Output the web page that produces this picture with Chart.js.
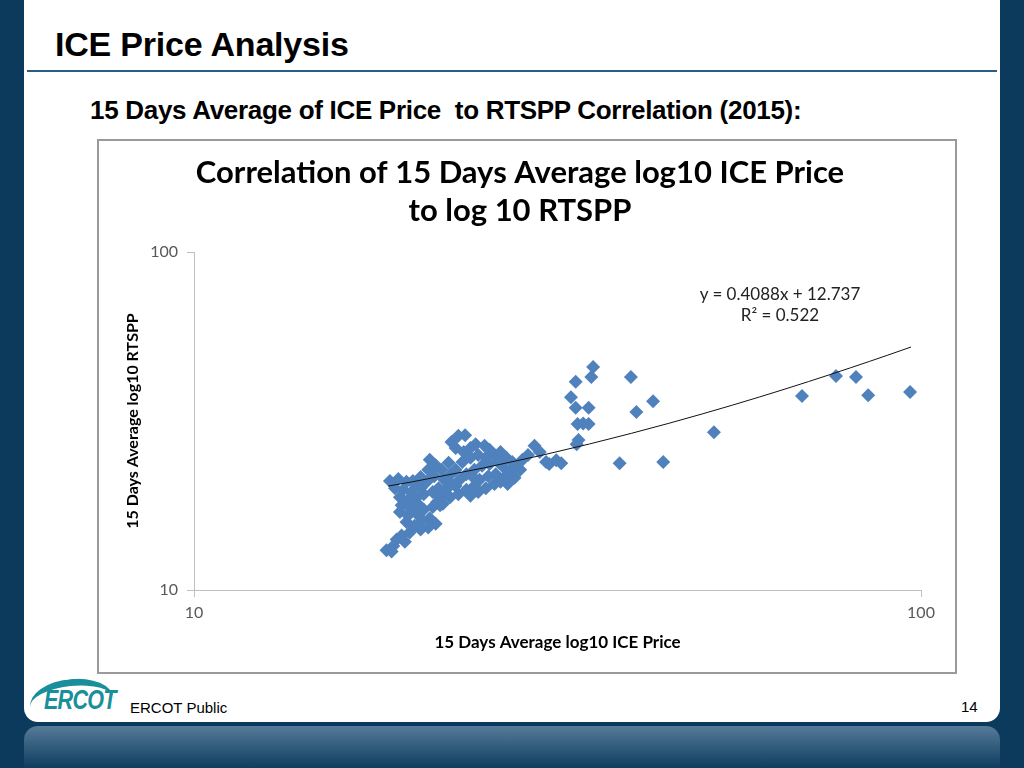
<!DOCTYPE html>
<html>
<head>
<meta charset="utf-8">
<title>ICE Price Analysis</title>
<script src="https://cdn.jsdelivr.net/npm/chart.js@4/dist/chart.umd.min.js"></script>
<style>
  html, body { margin: 0; padding: 0; }
  body { width: 1024px; height: 768px; background: #0b3a5d; position: relative; overflow: hidden; font-family: "Liberation Sans", Arial, sans-serif; }
  #panel { position: absolute; left: 24px; top: 0; width: 976px; height: 722px; background: #fff; border-radius: 0 0 14px 14px; }
  #band { position: absolute; left: 24px; top: 726px; width: 976px; height: 42px; border-radius: 14px 14px 0 0; background: linear-gradient(#557b98, #0f3d5f); }
  #title { position: absolute; left: 55px; top: 25px; font-size: 34px; font-weight: bold; color: #000; letter-spacing: -0.2px; }
  #rule { position: absolute; left: 27px; top: 70px; width: 970px; height: 2px; background: #24608a; }
  #subtitle { position: absolute; left: 90px; top: 95px; font-size: 26px; font-weight: bold; color: #000; white-space: pre; letter-spacing: -0.3px; }
  #box { position: absolute; left: 97px; top: 139px; width: 856px; height: 531px; border: 2px solid #9a9a9a; background: #fff; }
  #chart { position: absolute; left: 0; top: 0; }
  .eq { position: absolute; font-family: Lato, sans-serif; font-size: 17px; color: #222; width: 260px; text-align: center; }
  #logo { position: absolute; left: 44px; top: 685px; font-size: 27px; font-weight: bold; font-style: italic; color: #1a8f9c; letter-spacing: -1px; transform: scaleX(0.8); transform-origin: left; }
  #swoosh { position: absolute; left: 30px; top: 679px; width: 84px; height: 40px; border-top: 7px solid #1a8f9c; border-radius: 50% 50% 0 0; transform: rotate(-6deg); }
  #footer { position: absolute; left: 130px; top: 699px; font-size: 15px; color: #000; }
  #page { position: absolute; left: 961px; top: 698px; font-size: 15px; color: #000; }
</style>
</head>
<body>
<div id="panel"></div>
<div id="band"></div>
<div id="title">ICE Price Analysis</div>
<div id="rule"></div>
<div id="subtitle">15 Days Average of ICE Price  to RTSPP Correlation (2015):</div>
<div id="box">
  <canvas id="chart" width="856" height="531"></canvas>
  <div class="eq" style="left:551px; top:142px;">y = 0.4088x + 12.737</div>
  <div class="eq" style="left:551px; top:163px;">R² = 0.522</div>
</div>
<div id="swoosh"></div>
<div id="logo">ERCOT</div>
<div id="footer">ERCOT Public</div>
<div id="page">14</div>

<script>
// 15 day average ICE price (x) and RTSPP (y)
const icePrice = [
    // right-hand outliers
    39.9, 40.6, 42.8, 51.9, 38.5, 44.2, 68.6, 76.4, 81.4, 84.6, 96.6,
    // column near 33-35
    35.4, 35.2, 33.5, 33.0, 33.5, 34.9, 33.7, 34.3, 34.9, 33.8, 33.6, 31.5, 30.8, 32.0,
    // left head of the cluster
    18.6, 19.1, 19.6, 20.1, 18.9, 19.4, 19.9, 20.5, 19.2, 19.7, 20.2, 20.7,
    // lower arm
    19.3, 19.8, 20.3, 19.2, 19.7, 20.2, 20.7, 19.6, 20.1, 20.6, 21.1, 21.5,
    21.3, 21.8, 19.8, 19.3, 19.0, 19.5, 18.8, 18.4, 18.7, 20.5, 21.0,
    // main body
    21.1, 21.5, 21.0, 21.4, 21.9, 22.4, 22.6, 23.1, 23.6, 22.9, 23.5, 24.0, 24.4, 25.1, 25.5,
    22.1, 22.5, 22.9, 23.4, 24.0, 24.6, 25.2, 25.9, 26.4, 26.9, 27.4,
    21.7, 22.2, 22.6, 23.2, 23.7, 24.3, 24.9, 25.5, 26.2, 26.7, 27.2, 27.7, 28.3, 28.8, 29.4, 29.9, 30.5, 28.1,
    22.5, 23.1, 23.7, 24.3, 24.7, 25.4, 26.0, 26.7, 24.0, 24.6, 25.2, 25.9, 26.4,
    21.8, 20.9, 21.3, 27.6, 27.0,
    // filling the gaps in the dense part
    20.5, 20.0, 22.0, 21.6, 22.9, 24.2
];
const rtspp = [
    42.7, 33.6, 36.2, 29.3, 23.7, 23.9, 37.5, 43.0, 42.7, 37.7, 38.5,
    45.7, 42.7, 41.3, 37.2, 34.6, 34.6, 31.0, 31.1, 31.0, 27.8, 27.0, 24.2, 23.6, 23.7,
    21.0, 21.3, 20.9, 20.6, 20.0, 19.8, 19.5, 20.0, 18.8, 18.5, 18.7, 19.2,
    17.8, 17.5, 18.0, 17.0, 16.6, 16.9, 17.3, 15.9, 15.5, 16.1, 16.3, 15.7,
    17.6, 17.8, 14.8, 14.5, 14.1, 13.9, 13.5, 13.1, 13.0, 15.1, 15.3,
    24.3, 23.4, 22.7, 21.7, 22.7, 23.8, 27.4, 28.6, 28.7, 26.3, 25.6, 26.3, 27.0, 26.7, 26.0,
    21.2, 21.9, 22.7, 23.9, 24.6, 25.1, 24.6, 25.1, 25.6, 24.6, 23.9,
    20.0, 19.8, 20.6, 21.2, 22.0, 22.7, 23.3, 23.6, 23.9, 23.0, 22.3, 23.3, 24.3, 25.1, 26.7, 25.6, 23.9, 22.7,
    18.8, 19.2, 19.8, 20.3, 21.2, 21.7, 22.0, 21.5, 19.0, 19.5, 20.0, 20.6, 20.9,
    18.8, 20.9, 19.5, 21.5, 20.6,
    21.6, 21.0, 18.0, 18.2, 20.3, 21.6
];

// linear trendline shown on the chart: y = 0.4088x + 12.737
const trendSlope = 0.4088;
const trendIntercept = 12.737;
const trendX = [18.5, 20, 25, 30, 35, 40, 45, 50, 55, 60, 65, 70, 75, 80, 85, 90, 96.9];

const axisTicks = [10, 100];

const points = icePrice.map((x, i) => ({ x: x, y: rtspp[i] }));
const trendPoints = trendX.map(x => ({ x: x, y: trendSlope * x + trendIntercept }));

const gray = '#bfbfbf';
const tickFont = { family: 'Lato', size: 16 };

new Chart(document.getElementById('chart').getContext('2d'), {
    type: 'scatter',
    data: {
        datasets: [
            {
                label: 'Linear trend',
                data: trendPoints,
                showLine: true,
                borderColor: '#111',
                borderWidth: 1,
                pointRadius: 0,
                order: 0
            },
            {
                label: '15 Days Average',
                data: points,
                pointStyle: 'rectRot',
                pointRadius: 7,
                backgroundColor: '#4f81bd',
                borderColor: '#4f81bd',
                borderWidth: 0,
                order: 1
            }
        ]
    },
    options: {
        responsive: false,
        animation: false,
        layout: { padding: { left: 20, right: 34, top: 0, bottom: 15 } },
        plugins: {
            legend: { display: false },
            tooltip: { enabled: false },
            title: {
                display: true,
                text: ['Correlation of 15 Days Average log10 ICE Price', 'to log 10 RTSPP'],
                color: '#000',
                font: { family: 'Lato', size: 31, weight: 'bold', lineHeight: 1.226 },
                padding: { top: 13, bottom: 22 }
            }
        },
        scales: {
            x: {
                type: 'logarithmic',
                min: 10,
                max: 100,
                afterBuildTicks: scale => { scale.ticks = axisTicks.map(v => ({ value: v })); },
                afterFit: scale => { scale.height = 67; },
                ticks: { color: '#595959', font: tickFont, padding: 6, callback: v => String(v) },
                grid: { drawOnChartArea: false, tickLength: 7, color: gray },
                border: { color: gray },
                title: { display: true, text: '15 Days Average log10 ICE Price', color: '#000', font: { family: 'Lato', size: 17, weight: 'bold' }, padding: { top: 8 } }
            },
            y: {
                type: 'logarithmic',
                min: 10,
                max: 100,
                afterBuildTicks: scale => { scale.ticks = axisTicks.map(v => ({ value: v })); },
                afterFit: scale => { scale.width = 75; },
                ticks: { color: '#595959', font: tickFont, padding: 9, callback: v => String(v) },
                grid: { drawOnChartArea: false, tickLength: 7, color: gray },
                border: { color: gray },
                title: { display: true, text: '15 Days Average log10 RTSPP', color: '#000', font: { family: 'Lato', size: 16, weight: 'bold' }, padding: { top: 4 } }
            }
        }
    }
});
</script>
</body>
</html>
